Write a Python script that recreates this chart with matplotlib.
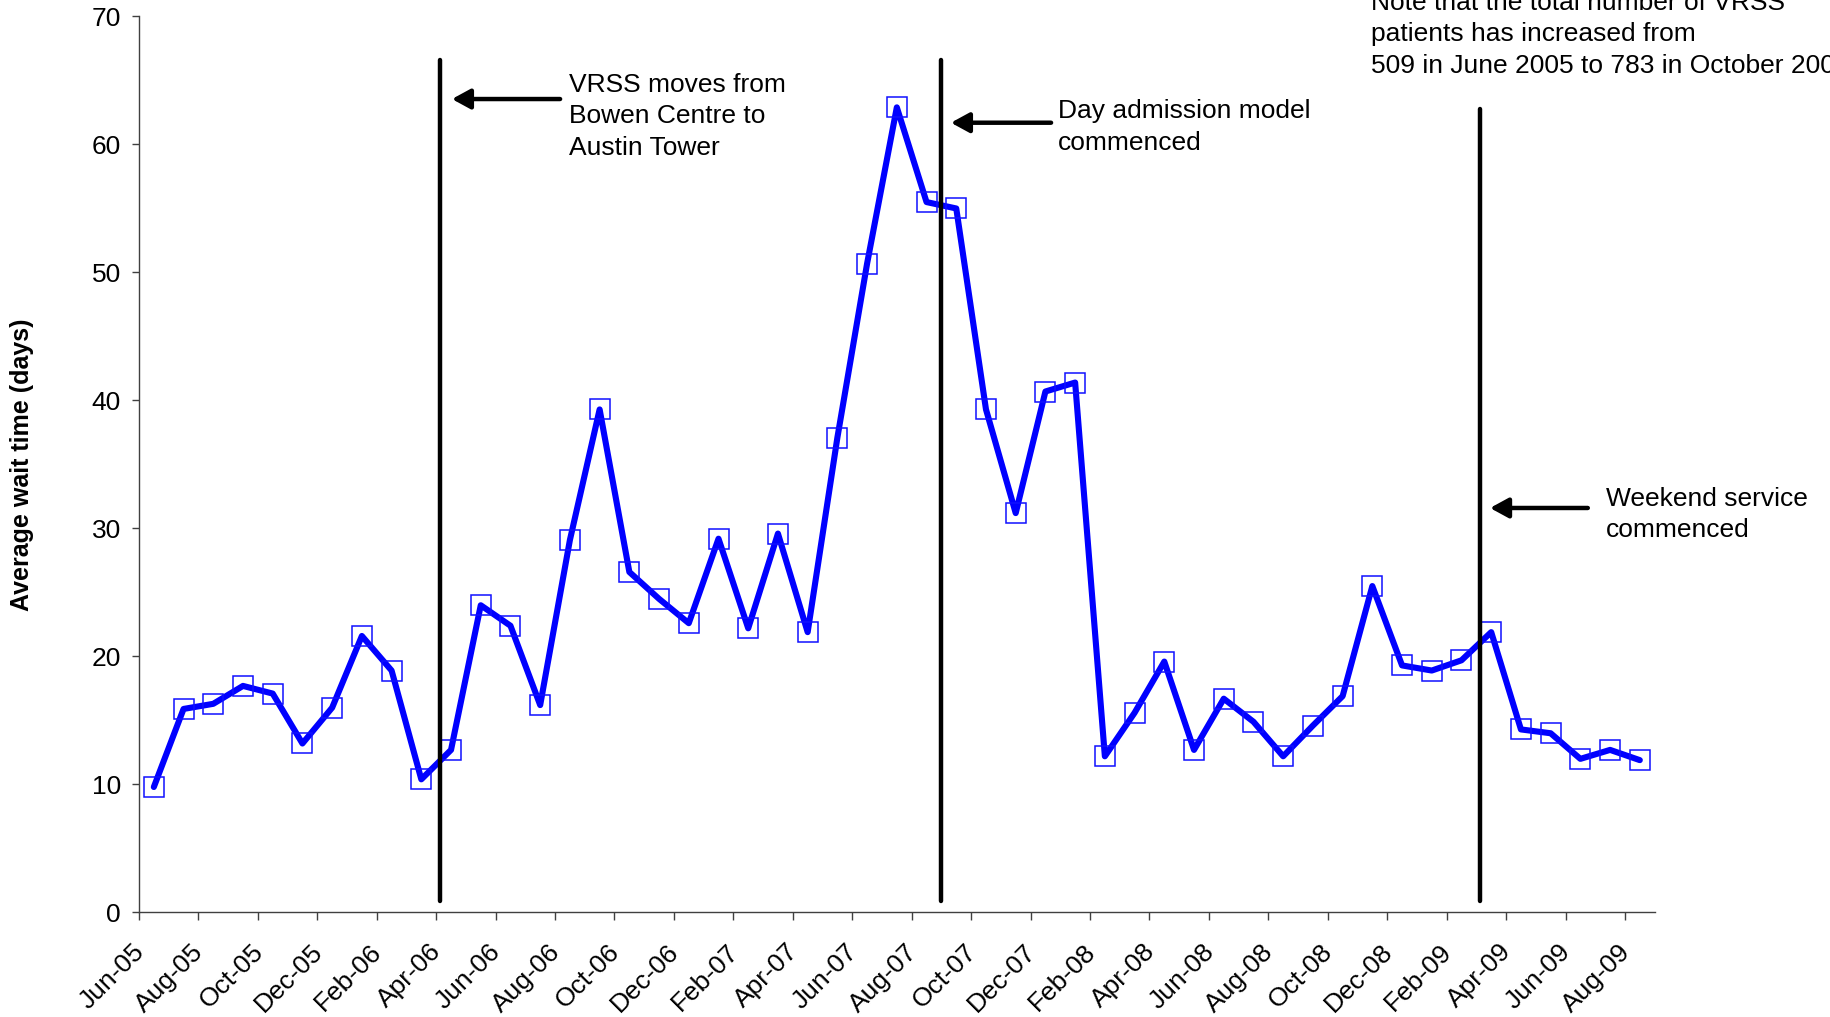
import matplotlib
matplotlib.use("Agg")
import matplotlib.pyplot as plt
import matplotlib.transforms as mtransforms
import numpy as np

plt.rcParams['font.family'] = ['Liberation Sans', 'DejaVu Sans']

# Monthly average wait time (days), Jun-05 .. Aug-09
wait_days = [9.8, 15.9, 16.3, 17.7, 17.1, 13.2, 16.0, 21.6, 18.9, 10.4,
             12.7, 24.0, 22.4, 16.2, 29.1, 39.3, 26.6, 24.5, 22.6, 29.2,
             22.2, 29.6, 21.9, 37.1, 50.7, 62.9, 55.5, 55.0, 39.3, 31.2,
             40.7, 41.4, 12.2, 15.6, 19.6, 12.7, 16.7, 14.9, 12.2, 14.6,
             16.9, 25.5, 19.3, 18.9, 19.7, 21.9, 14.3, 14.0, 12.0, 12.7, 11.9]

tick_labels = ['Jun-05', 'Aug-05', 'Oct-05', 'Dec-05', 'Feb-06', 'Apr-06',
               'Jun-06', 'Aug-06', 'Oct-06', 'Dec-06', 'Feb-07', 'Apr-07',
               'Jun-07', 'Aug-07', 'Oct-07', 'Dec-07', 'Feb-08', 'Apr-08',
               'Jun-08', 'Aug-08', 'Oct-08', 'Dec-08', 'Feb-09', 'Apr-09',
               'Jun-09', 'Aug-09']

event_texts = ['VRSS moves from\nBowen Centre to\nAustin Tower',
               'Day admission model\ncommenced',
               'Weekend service\ncommenced']

note_text = ('Note that the total number of VRSS\n'
             'patients has increased from\n'
             '509 in June 2005 to 783 in October 2009')

FS_TICK = 19
FS_NOTE = 19
BLUE = '#0000ff'

fig = plt.figure(figsize=(18.31, 10.17), dpi=100)
ax = fig.add_axes([0.0759, 0.1028, 0.8278, 0.881])

x = np.arange(len(wait_days))
ax.plot(x, wait_days, color=BLUE, lw=4.4, solid_joinstyle='round',
        solid_capstyle='round', zorder=3)
ax.plot(x, wait_days, linestyle='none', marker='s', markersize=14.8,
        markerfacecolor='none', markeredgecolor='#1010ff',
        markeredgewidth=1.1, zorder=4)

ax.set_yticks(np.arange(0, 71, 10))
ax.set_xticks(np.arange(-0.5, len(wait_days) - 1, 2))
ax.set_xticklabels(tick_labels, rotation=45, ha='right', va='top',
                   rotation_mode='anchor')
ax.set_xlim(-0.5, len(wait_days) - 0.5)
ax.set_ylim(0, 70)

for side in ('top', 'right'):
    ax.spines[side].set_visible(False)
for side in ('left', 'bottom'):
    ax.spines[side].set_color('#404040')
    ax.spines[side].set_linewidth(1.0)

ax.tick_params(axis='y', direction='out', length=5, width=1.0,
               color='#404040', labelsize=FS_TICK, pad=8)
ax.tick_params(axis='x', direction='out', length=5.5, width=1.0,
               color='#404040', labelsize=FS_TICK, pad=14)

ax.set_ylabel('Average wait time (days)', fontsize=18, fontweight='bold')
ax.yaxis.set_label_coords(-0.0695, 0.5)

# Service changes: vertical markers, arrows and captions
event_x = [9.63, 26.49, 44.62]
event_top = [66.6, 66.6, 62.8]
arrow_tip = [10.03, 26.82, 44.96]
arrow_tail = [13.67, 30.19, 48.25]
arrow_y = [63.55, 61.7, 31.6]
text_x = [13.98, 30.42, 48.86]
text_y = [59.2, 59.6, 29.3]   # baseline of the last caption line

for ex, top, tip, tail, ay, tx, ty, txt in zip(event_x, event_top, arrow_tip,
                                              arrow_tail, arrow_y, text_x,
                                              text_y, event_texts):
    ax.plot([ex, ex], [0.9, top], color='black', lw=3.2,
            solid_capstyle='round', zorder=5)
    ax.annotate('', xy=(tip, ay), xytext=(tail, ay),
                arrowprops=dict(arrowstyle='-|>,head_length=0.55,head_width=0.3',
                                mutation_scale=20, color='black', lw=3.2,
                                shrinkA=0, shrinkB=0),
                zorder=5)
    ax.text(tx, ty, txt, fontsize=FS_NOTE, ha='left', va='baseline',
            linespacing=1.4, zorder=6)

ax.text(40.95, 65.6, note_text, fontsize=FS_NOTE, ha='left', va='baseline',
        linespacing=1.4, clip_on=False)

# nudge the slanted month labels a little to the left of their tick marks
fig.canvas.draw()
shift = mtransforms.ScaledTranslation(-7 / 100, 0, fig.dpi_scale_trans)
for tick in ax.xaxis.get_major_ticks():
    tick.label1.set_transform(tick.label1.get_transform() + shift)

fig.savefig('out.png', dpi=100, facecolor='white')
